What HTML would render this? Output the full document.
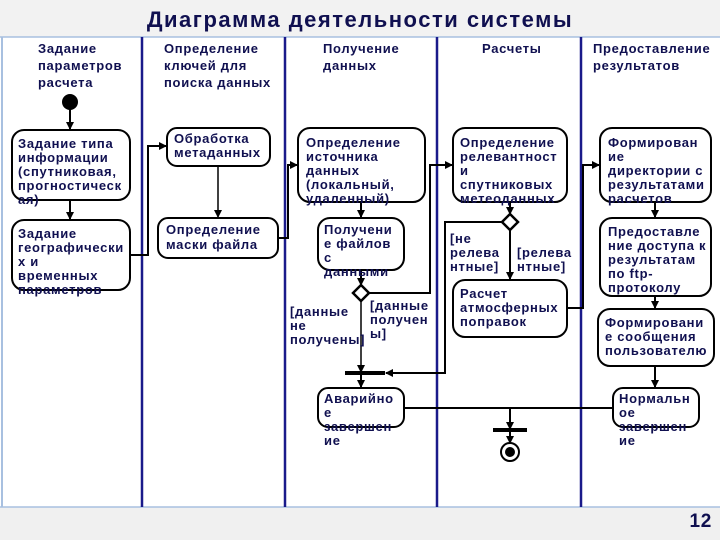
<!DOCTYPE html>
<html><head><meta charset="utf-8"><style>
html,body{margin:0;padding:0;width:720px;height:540px;overflow:hidden;background:#fff}
svg{display:block}
text{font-family:"Liberation Sans","DejaVu Sans",sans-serif;font-weight:bold;font-size:13px;fill:#101050;letter-spacing:0.7px}
</style></head><body>
<svg width="720" height="540" viewBox="0 0 720 540">
<defs><marker id="a" markerWidth="8" markerHeight="8" refX="7" refY="4" orient="auto" markerUnits="userSpaceOnUse"><path d="M0,0 L8,4 L0,8 z" fill="#000"/></marker></defs>
<rect x="0" y="0" width="720" height="37" fill="#f2f2f2"/>
<rect x="0" y="507" width="720" height="33" fill="#f0f0f0"/>
<line x1="0" y1="37" x2="720" y2="37" stroke="#a8c0e0" stroke-width="1.5"/>
<line x1="0" y1="507" x2="720" y2="507" stroke="#a8c0e0" stroke-width="1.5"/>
<line x1="2" y1="37" x2="2" y2="507" stroke="#a8c0e0" stroke-width="2"/>
<text x="360" y="27" text-anchor="middle" style="font-size:22px;letter-spacing:1.5px" fill="#101050">Диаграмма деятельности системы</text>
<g stroke="#1a1a8a" stroke-width="2.5">
<line x1="142" y1="37" x2="142" y2="507"/><line x1="285" y1="37" x2="285" y2="507"/>
<line x1="437" y1="37" x2="437" y2="507"/><line x1="581" y1="37" x2="581" y2="507"/></g>
<g>
<text x="38" y="53">Задание</text><text x="38" y="70">параметров</text><text x="38" y="87">расчета</text>
<text x="164" y="53">Определение</text><text x="164" y="70">ключей для</text><text x="164" y="87">поиска данных</text>
<text x="323" y="53">Получение</text><text x="323" y="70">данных</text>
<text x="482" y="53">Расчеты</text>
<text x="593" y="53">Предоставление</text><text x="593" y="70">результатов</text>
</g>
<g fill="#fff" stroke="#000" stroke-width="2">
<rect x="12" y="130" width="118" height="70" rx="12"/>
<rect x="12" y="220" width="118" height="70" rx="12"/>
<rect x="167" y="128" width="103" height="38" rx="10"/>
<rect x="158" y="218" width="120" height="40" rx="10"/>
<rect x="298" y="128" width="127" height="74" rx="12"/>
<rect x="318" y="218" width="86" height="52" rx="12"/>
<rect x="453" y="128" width="114" height="74" rx="12"/>
<rect x="453" y="280" width="114" height="57" rx="12"/>
<rect x="600" y="128" width="111" height="74" rx="12"/>
<rect x="600" y="218" width="111" height="78" rx="12"/>
<rect x="598" y="309" width="116" height="57" rx="12"/>
<rect x="318" y="388" width="86" height="39" rx="10"/>
<rect x="613" y="388" width="86" height="39" rx="10"/>
</g>
<g stroke="#000" stroke-width="2" fill="none">
<line x1="70" y1="102" x2="70" y2="129" marker-end="url(#a)"/>
<line x1="70" y1="200" x2="70" y2="219" marker-end="url(#a)"/>
<polyline points="130,255 148,255 148,146 166,146" marker-end="url(#a)"/>
<line x1="218" y1="166" x2="218" y2="217" stroke-width="1.5" marker-end="url(#a)"/>
<polyline points="278,238 288,238 288,165 297,165" marker-end="url(#a)"/>
<line x1="361" y1="202" x2="361" y2="217" marker-end="url(#a)"/>
<line x1="361" y1="270" x2="361" y2="285" marker-end="url(#a)"/>
<polyline points="369,293 430,293 430,165 452,165" marker-end="url(#a)"/>
<line x1="361" y1="301" x2="361" y2="372" stroke-width="1.5" marker-end="url(#a)"/>
<line x1="361" y1="374" x2="361" y2="387" marker-end="url(#a)"/>
<line x1="510" y1="202" x2="510" y2="214" marker-end="url(#a)"/>
<line x1="510" y1="230" x2="510" y2="279" marker-end="url(#a)"/>
<polyline points="502,222 445,222 445,373 386,373" marker-end="url(#a)"/>
<polyline points="567,308 583,308 583,165 599,165" marker-end="url(#a)"/>
<line x1="655" y1="202" x2="655" y2="217" marker-end="url(#a)"/>
<line x1="655" y1="296" x2="655" y2="308" marker-end="url(#a)"/>
<line x1="655" y1="366" x2="655" y2="387" marker-end="url(#a)"/>
<line x1="404" y1="408" x2="613" y2="408"/>
<line x1="510" y1="408" x2="510" y2="429" marker-end="url(#a)"/>
<line x1="510" y1="431" x2="510" y2="443" marker-end="url(#a)"/>
</g>
<circle cx="70" cy="102" r="8" fill="#000"/>
<path d="M361,285 L369,293 L361,301 L353,293 z" fill="#fff" stroke="#000" stroke-width="2.5"/>
<path d="M510,214 L518,222 L510,230 L502,222 z" fill="#fff" stroke="#000" stroke-width="2.5"/>
<rect x="345" y="371" width="40" height="4" fill="#000"/>
<rect x="493" y="428" width="34" height="4" fill="#000"/>
<circle cx="510" cy="452" r="9" fill="#fff" stroke="#000" stroke-width="2"/>
<circle cx="510" cy="452" r="5" fill="#000"/>
<g>
<text x="18" y="148">Задание  типа</text><text x="18" y="162">информации</text><text x="18" y="176">(спутниковая,</text><text x="18" y="190">прогностическ</text><text x="18" y="204">ая)</text>
<text x="18" y="238">Задание</text><text x="18" y="252">географически</text><text x="18" y="266">х  и</text><text x="18" y="280">временных</text><text x="18" y="294">параметров</text>
<text x="174" y="143">Обработка</text><text x="174" y="157">метаданных</text>
<text x="166" y="234">Определение</text><text x="166" y="249">маски файла</text>
<text x="306" y="147">Определение</text><text x="306" y="161">источника</text><text x="306" y="175">данных</text><text x="306" y="189">(локальный,</text><text x="306" y="203">удаленный)</text>
<text x="324" y="234">Получени</text><text x="324" y="248">е файлов</text><text x="324" y="262">с</text><text x="324" y="276">данными</text>
<text x="290" y="316">[данные</text><text x="290" y="330">не</text><text x="290" y="344">получены]</text>
<text x="370" y="310">[данные</text><text x="370" y="324">получен</text><text x="370" y="338">ы]</text>
<text x="460" y="147">Определение</text><text x="460" y="161">релевантност</text><text x="460" y="175">и</text><text x="460" y="189">спутниковых</text><text x="460" y="203">метеоданных</text>
<text x="450" y="243">[не</text><text x="450" y="257">релева</text><text x="450" y="271">нтные]</text>
<text x="517" y="257">[релева</text><text x="517" y="271">нтные]</text>
<text x="460" y="298">Расчет</text><text x="460" y="312">атмосферных</text><text x="460" y="326">поправок</text>
<text x="608" y="147">Формирован</text><text x="608" y="161">ие</text><text x="608" y="175">директории с</text><text x="608" y="189">результатами</text><text x="608" y="203">расчетов</text>
<text x="608" y="236">Предоставле</text><text x="608" y="250">ние доступа к</text><text x="608" y="264">результатам</text><text x="608" y="278">по ftp-</text><text x="608" y="292">протоколу</text>
<text x="605" y="327">Формировани</text><text x="605" y="341">е сообщения</text><text x="605" y="355">пользователю</text>
<text x="324" y="403">Аварийно</text><text x="324" y="417">е</text><text x="324" y="431">завершен</text><text x="324" y="445">ие</text>
<text x="619" y="403">Нормальн</text><text x="619" y="417">ое</text><text x="619" y="431">завершен</text><text x="619" y="445">ие</text>
<text x="712" y="527" text-anchor="end" style="font-size:19px">12</text>
</g>
</svg>
</body></html>
